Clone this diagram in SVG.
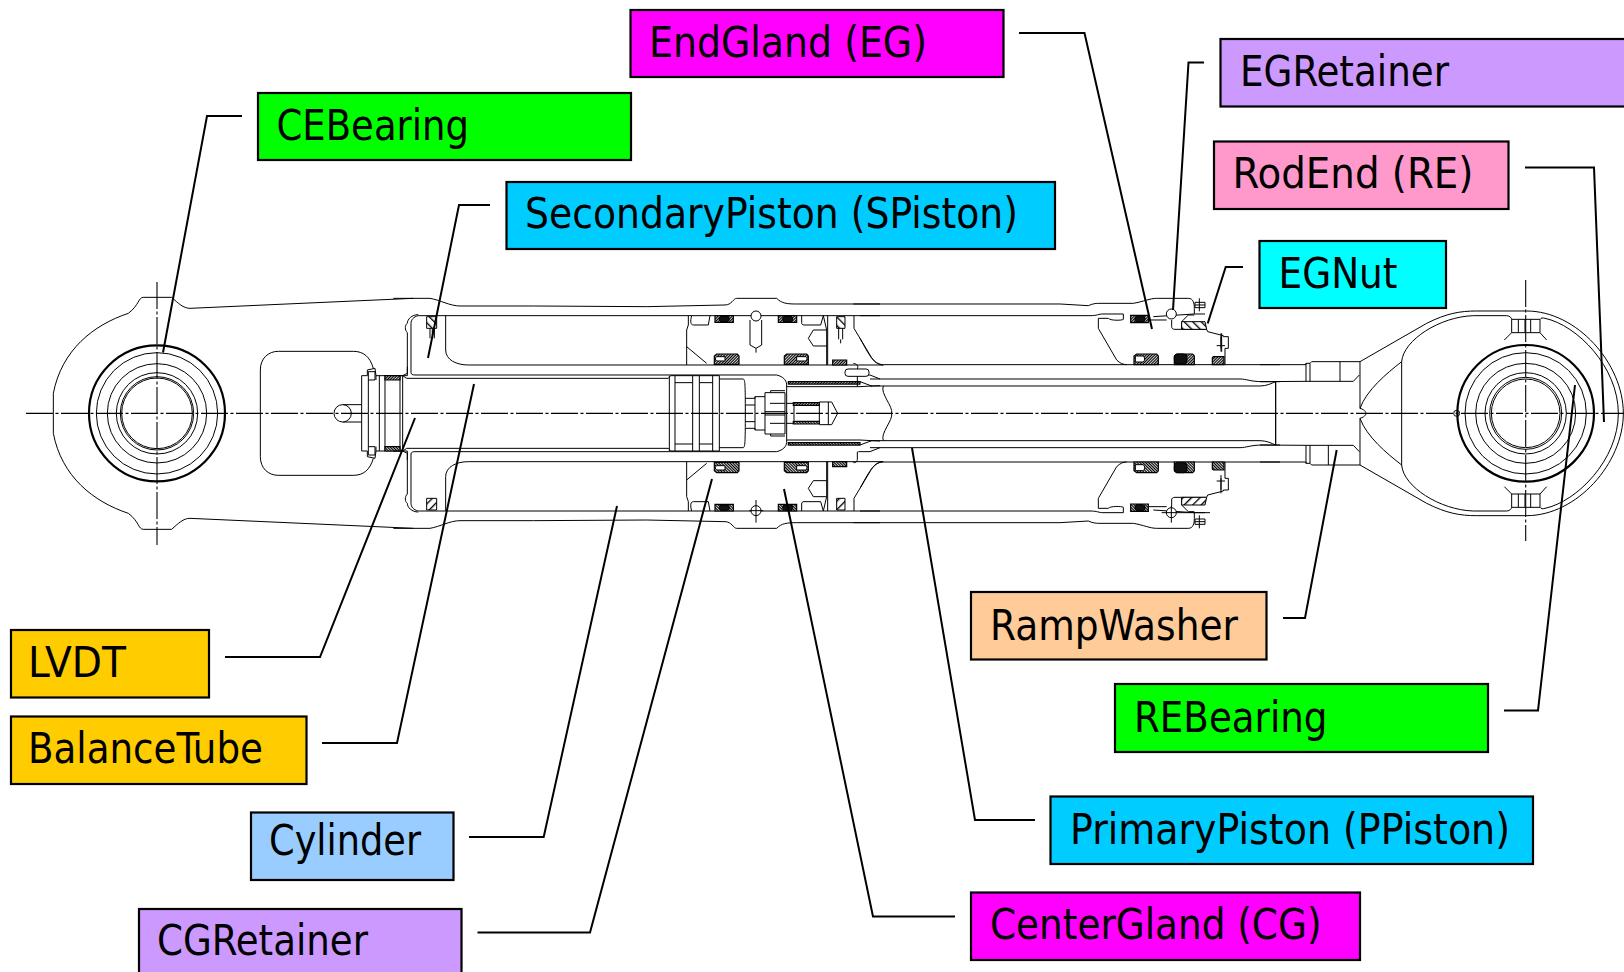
<svg xmlns="http://www.w3.org/2000/svg" xmlns:xlink="http://www.w3.org/1999/xlink" width="1624" height="972" viewBox="0 0 1624 972">
<style>
.z path,.z circle,.z rect{fill:none;stroke:#000;stroke-width:1;vector-effect:non-scaling-stroke}
.z .s{fill:url(#h);stroke-width:1.2}
.z .k{fill:#111;stroke-width:1}
.z .f{fill:url(#g);stroke-width:1}
.z .w{fill:#fff}
.cl{fill:none;stroke:#000;stroke-width:1.1;stroke-dasharray:27 2.5 3 2.5}
.ld{fill:none;stroke:#000;stroke-width:2}
.box{stroke:#000;stroke-width:2.2}
.lb{font-family:"DejaVu Sans Condensed","DejaVu Sans",sans-serif;font-stretch:condensed;font-size:43px;fill:#000}
</style>
<defs>
<pattern id="h" width="6" height="6" patternUnits="userSpaceOnUse" patternTransform="rotate(45)"><rect width="6" height="6" fill="#fff"/><rect width="3.600" height="6" fill="#000"/></pattern>
<pattern id="g" width="18" height="18" patternUnits="userSpaceOnUse" patternTransform="rotate(-45)"><rect width="18" height="18" fill="#fff"/><rect width="4" height="18" fill="#000"/></pattern>
<g id="half">
<g class="z" transform="translate(0 260) scale(.33333)">
<path d="M1240,115 L570,145 C550,145 535,130 515,112 L430,112 C415,112 418,135 385,160 C280,195 185,270 160,400 L160,460"/>
<path d="M781,460 L781,330 C781,295 805,274 835,274 L1060,274 C1090,274 1110,290 1120,325"/>
<path d="M1028,434 L1085,434"/>
<path d="M1085,460 L1085,347 L1102,347 L1102,330 L1125,325 L1128,347 L1222,347 L1222,320"/>
<path d="M1105,335 H1125 V360 H1105 Z M1105,360 V460 M1128,360 V347 M1138,347 V460 M1155,347 V460 M1200,347 V460 M1208,347 V460"/>
<rect class="s" x="1155" y="347" width="45" height="13"/>
</g>
<g class="z" transform="translate(400 280) scale(.33333)">
<path d="M-20,55 L90,55 C120,60 150,78 180,78 L400,78 L740,80 L975,75 C995,75 1000,55 1010,55 L1130,55 C1145,70 1160,72 1190,72 L1440,72"/>
<path d="M55,107 L1440,107"/>
<path d="M55,104 C35,104 22,118 22,130 C14,135 14,150 22,158 L22,280 L8,287"/>
<path d="M55,107 C40,110 33,120 33,130 L33,278 C33,283 38,285 45,285 L1130,285 C1150,290 1158,300 1160,312"/>
<path d="M137,107 L137,210 C137,240 170,255 205,255 L1450,255"/>
<path d="M-20,287 L8,287 L20,295 L805,295 L812,287 L958,287 L958,400"/>
<path d="M808,287 V400 M825,287 V400 M878,287 V400 M898,287 V400 M938,287 V400 M825,308 H878 M898,308 H938 M958,297 H1030 C1035,300 1036,310 1036,400"/>
<path d="M1036,355 H1065 V350 H1095 M1065,350 V400 M1036,375 H1065"/>
<path d="M1095,338 H1155 V400 M1095,338 V400 M1112,338 V332 H1155 M1110,370 H1155 M1095,395 H1155"/>
<path d="M1158,370 H1258 V400 M1182,378 V400 M1258,366 H1295 L1313,400 M1285,366 V400" />
<rect class="s" x="1180" y="368" width="78" height="8"/>
<path d="M860,255 L860,150 L865,135 L865,107 M875,107 C870,125 872,135 880,135 L925,135 L930,107 M1205,107 L1205,128 C1205,133 1208,135 1212,135 L1262,135 L1270,107 L1280,150 L1280,255 M1240,150 L1225,175 L1240,198 H1280 M1240,150 H1280 M860,200 L920,250"/>
<rect class="s" x="945" y="107" width="55" height="20"/>
<rect class="k" x="958" y="109" width="30" height="16" rx="7"/>
<rect class="s" x="1135" y="107" width="55" height="20"/>
<rect class="k" x="1148" y="109" width="30" height="16" rx="7"/>
<path class="s" d="M950,222 H1012 L1017,228 V253 H943 V228 Z"/>
<path class="w" d="M950,230 H975 V243 H950 C945,240 945,233 950,230 Z"/>
<path class="s" d="M1160,222 H1220 L1225,228 V253 H1153 V228 Z"/>
<path class="w" d="M1190,230 H1218 C1222,233 1222,240 1218,243 H1190 Z"/>
<path d="M1283,107 V255 M1362,107 V145 L1380,175 L1410,225 C1420,245 1435,255 1450,255"/>
<rect class="s" x="1298" y="240" width="42" height="15"/>
<path d="M1160,312 V400 M1160,320 H1380 L1415,318 L1440,317 M1165,305 H1380 L1415,318 M1375,285 H1410 L1440,297 M1165,312 H1380"/>
<rect class="s" x="1165" y="305" width="215" height="7"/>
<rect class="f" x="80" y="110" width="30" height="35"/>
<rect class="f" x="1310" y="110" width="25" height="35"/>
</g>
<g class="z" transform="translate(860 270) scale(.33333)">
<path d="M-20,102 L600,102 L685,107 C700,100 710,100 720,100 L820,100 C850,95 870,85 890,85 L985,85 C1000,85 1003,100 1003,115 V132 L880,140"/>
<path d="M0,137 L690,137 C710,137 720,132 725,132 L790,132 L790,148 C785,152 750,152 745,145 L715,145 L715,175 L770,270 C780,280 790,284 800,284"/>
<path d="M70,284 L1260,284 M30,327 L1140,327 C1160,327 1170,335 1210,335 L1260,335 M30,348 L1200,348 C1220,348 1235,340 1247,335 V430"/>
<path d="M70,348 C60,370 100,410 95,430 M70,284 C40,284 25,250 0,205"/>
<path d="M865,150 H920 M935,150 V170 C935,175 938,178 945,178 H1040 L1043,185 L1090,197 V200 H1105 V235 H1095 V284 M965,178 V155 L985,135 H1003 M1003,132 L1035,132"/>
<path class="f" d="M965,155 H1035 L1040,178 H965 Z"/>
<rect class="s" x="812" y="136" width="53" height="22"/>
<rect class="k" x="825" y="138" width="30" height="18" rx="7"/>
<circle class="w" cx="934" cy="132" r="15"/>
<path class="s" d="M830,252 H890 L895,258 V284 H822 V258 Z"/>
<path class="w" d="M826,258 H850 C855,262 855,272 850,276 H826 Z"/>
<path class="s" d="M950,252 H998 L1003,258 V284 H943 V258 Z"/>
<rect class="k" x="943" y="252" width="38" height="30" rx="10"/>
<path class="s" d="M1060,260 H1092 V284 H1057 V263 Z"/>
<path d="M1005,97 V113 H1035 V97 Z M1018,85 V124 M1005,105 H1035"/>
<path d="M1083,200 V235 M1070,227 H1095 M1083,190 V245"/>
</g>
<g class="z" transform="translate(1260 280) scale(.33333)">
<path d="M0,254 H138 V250 H150 M138,250 V304 H150 M150,250 V304 M155,245 H300 V385 C318,390 318,400 318,400 M150,250 L155,245 M150,304 H280 L298,285 M0,305 L138,304"/>
<path d="M47,305 V400 M300,245 L500,130 C560,100 600,93 650,93 L800,93 C950,93 1090,250 1090,400"/>
<path d="M300,385 C320,330 380,280 425,245 V400 M425,245 C430,180 540,110 640,107 L740,107 C750,107 755,115 755,118 M842,118 C842,113 848,113 855,115 C950,135 1075,260 1075,400"/>
<path d="M755,118 H840 V158 H755 Z M775,118 V158 M795,118 V158 M812,118 V158 M755,158 L733,180 M840,158 L860,180"/>
</g>
</g>
</defs>
<g id="drawing">
<use href="#half"/>
<use href="#half" transform="translate(0 826.667) scale(1 -1)"/>
<g class="z" transform="translate(400 280) scale(.33333)">
<circle class="w" cx="1068" cy="108" r="15"/>
<path d="M1050,120 V195 L1068,205 L1085,195 V120 M1068,205 V218"/>
<circle class="w" cx="1068" cy="692" r="15"/>
<path d="M1068,660 V728 M1048,692 H1090"/>
<path d="M103,145 V175 M90,145 V175 M97,175 V145 M1316,145 V178 M1328,145 V178 M1322,178 V190"/>
<rect class="w" x="1335" y="267" width="72" height="22" rx="9"/>
<path d="M1360,250 C1372,252 1376,258 1372,267 M1372,289 V320 M1372,515 V538 C1372,545 1365,552 1358,545"/>
</g>
<g class="z" transform="translate(860 270) scale(.33333)">
<path d="M934,708 V758 M905,728 H1050"/>
<path d="M1085,190 V245"/>
</g>
<g class="z" transform="translate(0 260) scale(.33333)">
<circle cx="1028" cy="460" r="26" style="fill:#fff"/>
<circle cx="471" cy="460" r="204" style="stroke-width:2.200"/>
<circle cx="471" cy="460" r="182"/>
<circle cx="471" cy="460" r="149"/>
<circle cx="471" cy="460" r="122"/>
<circle cx="471" cy="460" r="110"/>
<circle cx="471" cy="460" r="106"/>
</g>
<g class="z" transform="translate(1260 280) scale(.33333)">
<circle cx="797" cy="400" r="205" style="stroke-width:2.200"/>
<circle cx="797" cy="400" r="182"/>
<circle cx="797" cy="400" r="150"/>
<circle cx="797" cy="400" r="122"/>
<circle cx="797" cy="400" r="108"/>
<circle cx="797" cy="400" r="103"/>
<circle cx="590" cy="400" r="9"/>
<path d="M205,496 V555 M240,245 V304"/>
</g>
<path class="cl" d="M26,413.33 H1624 M157,282 V545 M1525.7,280 V541"/>
</g>
<g id="connectors">
<path class="ld" d="M242,116 H207 L163,352.5"/>
<path class="ld" d="M490,205 H459 L428,358"/>
<path class="ld" d="M1019,33 H1084.5 L1152,329"/>
<path class="ld" d="M1204,62.5 H1188.5 L1173,310"/>
<path class="ld" d="M1243,267 H1225.7 L1207.7,323.5"/>
<path class="ld" d="M1525,167.5 H1594 L1604,422"/>
<path class="ld" d="M1504,710.5 H1538 L1575,385"/>
<path class="ld" d="M1283,618 H1305 L1336.7,450"/>
<path class="ld" d="M1035,820 H975 L912,448"/>
<path class="ld" d="M955,916.5 H873 L784,489"/>
<path class="ld" d="M477.5,932.5 H590 L712,479"/>
<path class="ld" d="M469,837 H543.7 L617,506"/>
<path class="ld" d="M322,743 H397 L474,384"/>
<path class="ld" d="M225,657 H320 L415,418"/>
</g>
<g id="n-ceb"><rect class="box" x="258" y="93" width="373" height="67" fill="#00ff00"/><text class="lb" x="276.5" y="140" textLength="192.500" lengthAdjust="spacingAndGlyphs">CEBearing</text></g>
<g id="n-spiston"><rect class="box" x="506.500" y="182" width="548.500" height="67" fill="#00ccff"/><text class="lb" x="525" y="228" textLength="493" lengthAdjust="spacingAndGlyphs">SecondaryPiston (SPiston)</text></g>
<g id="n-eg"><rect class="box" x="630.500" y="10" width="373" height="67" fill="#ff00ff"/><text class="lb" x="649" y="57" textLength="278" lengthAdjust="spacingAndGlyphs">EndGland (EG)</text></g>
<g id="n-egr"><rect class="box" x="1220.500" y="39" width="406" height="67.500" fill="#cc99ff"/><text class="lb" x="1240" y="86" textLength="209" lengthAdjust="spacingAndGlyphs">EGRetainer</text></g>
<g id="n-re"><rect class="box" x="1214" y="141.500" width="294.500" height="67.500" fill="#ff99cc"/><text class="lb" x="1232.500" y="188" textLength="241" lengthAdjust="spacingAndGlyphs">RodEnd (RE)</text></g>
<g id="n-egnut"><rect class="box" x="1259.500" y="241" width="186.500" height="67" fill="#00ffff"/><text class="lb" x="1278.500" y="287.500" textLength="119" lengthAdjust="spacingAndGlyphs">EGNut</text></g>
<g id="n-ramp"><rect class="box" x="971" y="592" width="295.500" height="67.500" fill="#ffcc99"/><text class="lb" x="990" y="639.500" textLength="248" lengthAdjust="spacingAndGlyphs">RampWasher</text></g>
<g id="n-reb"><rect class="box" x="1115" y="684" width="373" height="68" fill="#00ff00"/><text class="lb" x="1134" y="732" textLength="193.500" lengthAdjust="spacingAndGlyphs">REBearing</text></g>
<g id="n-ppiston"><rect class="box" x="1050.500" y="796.500" width="482.500" height="67.500" fill="#00ccff"/><text class="lb" x="1070" y="843.500" textLength="440" lengthAdjust="spacingAndGlyphs">PrimaryPiston (PPiston)</text></g>
<g id="n-cg"><rect class="box" x="971" y="892.500" width="389" height="67.500" fill="#ff00ff"/><text class="lb" x="990" y="939" textLength="331.500" lengthAdjust="spacingAndGlyphs">CenterGland (CG)</text></g>
<g id="n-lvdt"><rect class="box" x="11" y="630" width="198" height="67.500" fill="#ffcc00"/><text class="lb" x="28" y="677" textLength="98" lengthAdjust="spacingAndGlyphs">LVDT</text></g>
<g id="n-bt"><rect class="box" x="11" y="716.500" width="295.500" height="67.500" fill="#ffcc00"/><text class="lb" x="28" y="763" textLength="235" lengthAdjust="spacingAndGlyphs">BalanceTube</text></g>
<g id="n-cyl"><rect class="box" x="251" y="812.500" width="202.500" height="67.500" fill="#99ccff"/><text class="lb" x="269" y="854.500" textLength="152" lengthAdjust="spacingAndGlyphs">Cylinder</text></g>
<g id="n-cgr"><rect class="box" x="139" y="909" width="322.500" height="70" fill="#cc99ff"/><text class="lb" x="157" y="955" textLength="211" lengthAdjust="spacingAndGlyphs">CGRetainer</text></g>
</svg>
